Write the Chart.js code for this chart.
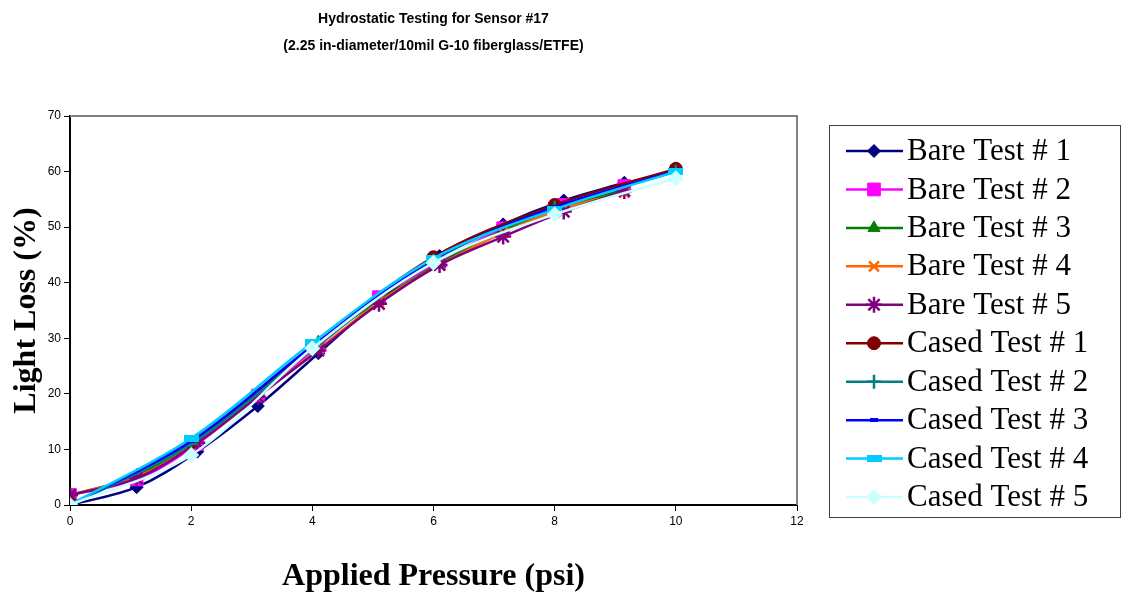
<!DOCTYPE html>
<html>
<head>
<meta charset="utf-8">
<script src="https://cdn.jsdelivr.net/npm/chart.js@4.4.1/dist/chart.umd.min.js"></script>
<style>
  html, body { margin: 0; padding: 0; background: #fff; }
  #wrap { width: 1131px; height: 593px; position: relative; }
</style>
</head>
<body>
<div id="wrap"><canvas id="sensorChart"></canvas></div>
<script>
// ── Data ────────────────────────────────────────────────────
const chartTitle = ["Hydrostatic Testing for Sensor #17", "(2.25 in-diameter/10mil G-10 fiberglass/ETFE)"];
const xTitle = "Applied Pressure (psi)";
const yTitle = "Light Loss (%)";

const bareX  = [0, 1.1, 2.1, 3.1, 4.1, 5.1, 6.1, 7.15, 8.15, 9.15];
const casedX = [0, 2, 4, 6, 8, 10];

const bare1 = [0,   3.2, 9.6,  17.8, 27.3, 36.8, 44.8, 50.5, 54.8, 58.0];
const bare2 = [1.8, 4.6, 11.0, 19.7, 28.6, 37.4, 43.8, 49.8, 54.0, 57.4];
const bare3 = [1.7, 5.3, 11.7, 20.2, 29.3, 36.8, 43.5, 49.4, 53.5, 56.8];
const bare4 = [1.8, 5.0, 11.2, 19.5, 28.0, 36.5, 43.2, 49.0, 53.4, 56.2];
const bare5 = [1.8, 4.8, 11.2, 19.5, 27.8, 36.2, 43.2, 48.3, 52.8, 56.5];

const cased1 = [0, 11.3, 28.5, 44.6, 54.0, 60.5];
const cased2 = [0, 11.0, 28.0, 44.0, 53.5, 60.0];
const cased3 = [0, 11.5, 28.6, 44.2, 53.6, 60.1];
const cased4 = [0, 12.0, 29.2, 44.4, 53.2, 60.0];
const cased5 = [0, 9.0,  28.2, 43.6, 52.3, 58.8];

const seriesNames = ["Bare Test # 1", "Bare Test # 2", "Bare Test # 3", "Bare Test # 4", "Bare Test # 5",
                     "Cased Test # 1", "Cased Test # 2", "Cased Test # 3", "Cased Test # 4", "Cased Test # 5"];

const xTicks = [0, 2, 4, 6, 8, 10, 12];
const yTicks = [0, 10, 20, 30, 40, 50, 60, 70];

// ── Helpers ─────────────────────────────────────────────────
function toPoints(xs, ys) {
    return ys.map((y, i) => ({ x: xs[i], y: y }));
}

// small horizontal bar used as marker by Cased #3 / #4
function barMarker(w, h, color) {
    const c = document.createElement("canvas");
    c.width = w; c.height = h;
    const g = c.getContext("2d");
    g.fillStyle = color;
    g.fillRect(0, 0, w, h);
    return c;
}

const styles = [
    { color: "#000080", pointStyle: "rectRot",  radius: 6.5 },
    { color: "#FF00FF", pointStyle: "rect",     radius: 9 },
    { color: "#008000", pointStyle: "triangle", radius: 7 },
    { color: "#FF6600", pointStyle: "crossRot", radius: 7, bw: 2.5 },
    { color: "#800080", pointStyle: "star",     radius: 8, bw: 2.5 },
    { color: "#800000", pointStyle: "circle",   radius: 6.5 },
    { color: "#008080", pointStyle: "cross",    radius: 7, bw: 2.5 },
    { color: "#0000FF", pointStyle: barMarker(8, 4, "#0000FF"),  radius: 4 },
    { color: "#00CCFF", pointStyle: barMarker(15, 7, "#00CCFF"), radius: 7 },
    { color: "#CCFFFF", pointStyle: "rectRot",  radius: 7.5 },
];

const seriesData = [
    toPoints(bareX, bare1), toPoints(bareX, bare2), toPoints(bareX, bare3),
    toPoints(bareX, bare4), toPoints(bareX, bare5),
    toPoints(casedX, cased1), toPoints(casedX, cased2), toPoints(casedX, cased3),
    toPoints(casedX, cased4), toPoints(casedX, cased5),
];

const datasets = seriesData.map((pts, i) => ({
    label: seriesNames[i],
    data: pts,
    borderColor: styles[i].color,
    backgroundColor: styles[i].color,
    pointBackgroundColor: styles[i].color,
    pointBorderColor: styles[i].color,
    pointStyle: styles[i].pointStyle,
    pointRadius: styles[i].radius,
    pointBorderWidth: styles[i].bw || 1,
    borderWidth: 2.5,
    tension: 0.35,
    fill: false,
    order: 10 - i,   // later series drawn on top, like the original
}));

// ── Plugins ─────────────────────────────────────────────────
// gray frame on top/right of plot area
const framePlugin = {
    id: "frame",
    beforeDatasetsDraw(chart) {
        const { ctx, chartArea: a } = chart;
        ctx.save();
        ctx.strokeStyle = "#808080";
        ctx.lineWidth = 2;
        ctx.beginPath();
        ctx.moveTo(a.left, a.top);
        ctx.lineTo(a.right, a.top);
        ctx.lineTo(a.right, a.bottom);
        ctx.stroke();
        ctx.restore();
    },
};

// boxed legend at the right with line + marker samples
const boxLegend = {
    id: "boxLegend",
    afterDraw(chart) {
        const { ctx } = chart;
        const box = { x: 829, y: 125, w: 291, h: 392 };
        ctx.save();
        ctx.strokeStyle = "#404040";
        ctx.lineWidth = 1;
        ctx.strokeRect(box.x + 0.5, box.y + 0.5, box.w, box.h);

        chart.data.datasets.forEach((ds, i) => {
            const y = 151 + i * 38.45;
            ctx.strokeStyle = ds.borderColor;
            ctx.lineWidth = 2.5;
            ctx.beginPath();
            ctx.moveTo(846, y);
            ctx.lineTo(903, y);
            ctx.stroke();

            ctx.fillStyle = ds.pointBackgroundColor;
            ctx.strokeStyle = ds.pointBorderColor;
            ctx.lineWidth = ds.pointBorderWidth;
            Chart.helpers.drawPoint(ctx, {
                pointStyle: ds.pointStyle,
                radius: ds.pointRadius,
                rotation: 0,
                borderWidth: ds.pointBorderWidth,
            }, 874, y);

            ctx.fillStyle = "#000";
            ctx.font = "31px 'Times New Roman', 'Liberation Serif', serif";
            ctx.textBaseline = "middle";
            ctx.textAlign = "left";
            ctx.fillText(ds.label, 907, y + 1);
        });
        ctx.restore();
    },
};

// ── Chart ───────────────────────────────────────────────────
const tickFont = { family: "Arial, 'Liberation Sans', sans-serif", size: 12 };
const axisTitleFont = { family: "'Times New Roman', 'Liberation Serif', serif", size: 32, weight: "bold", lineHeight: 1 };

new Chart(document.getElementById("sensorChart"), {
    type: "line",
    data: { datasets: datasets },
    options: {
        responsive: true,
        maintainAspectRatio: false,
        animation: false,
        layout: { padding: { top: 0, left: 0, right: 334, bottom: 0 } },
        plugins: {
            legend: { display: false },
            tooltip: { enabled: false },
            title: {
                display: true,
                fullSize: false,
                text: chartTitle,
                color: "#000",
                font: { family: "Arial, 'Liberation Sans', sans-serif", size: 14, weight: "bold", lineHeight: 1.93 },
                padding: { top: 6, bottom: 56 },
            },
        },
        scales: {
            x: {
                type: "linear",
                min: 0,
                max: 12,
                afterBuildTicks(scale) { scale.ticks = xTicks.map(v => ({ value: v })); },
                afterFit(scale) { scale.height = 88; },
                ticks: { color: "#000", font: tickFont, padding: 3, maxRotation: 0 },
                grid: { drawOnChartArea: false, drawTicks: true, tickLength: 6, color: "#000", lineWidth: 1 },
                border: { display: true, color: "#000", width: 2 },
                title: { display: true, text: xTitle, color: "#000", font: axisTitleFont, padding: { top: 0, bottom: 0 } },
            },
            y: {
                min: 0,
                max: 70,
                afterBuildTicks(scale) { scale.ticks = yTicks.map(v => ({ value: v })); },
                afterFit(scale) { scale.width = 70; },
                ticks: { color: "#000", font: tickFont, padding: 3 },
                grid: { drawOnChartArea: false, drawTicks: true, tickLength: 6, color: "#000", lineWidth: 1 },
                border: { display: true, color: "#000", width: 2 },
                title: { display: true, text: yTitle, color: "#000", font: axisTitleFont, padding: { top: 11, bottom: 0 } },
            },
        },
    },
    plugins: [framePlugin, boxLegend],
});
</script>
</body>
</html>
